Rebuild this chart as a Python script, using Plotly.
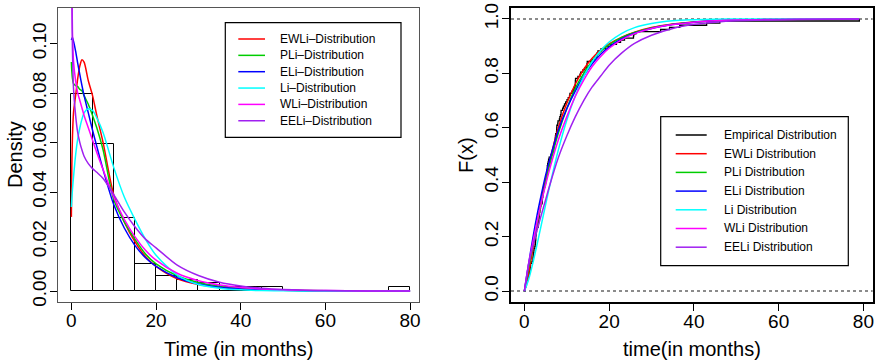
import numpy as np
import plotly.graph_objects as go
from plotly.subplots import make_subplots

# ---- data: bladder cancer remission times (months) ----
remission = [0.08, 2.09, 3.48, 4.87, 6.94, 8.66, 13.11, 23.63, 0.20, 2.23, 3.52, 4.98, 6.97, 9.02,
             13.29, 0.40, 2.26, 3.57, 5.06, 7.09, 9.22, 13.80, 25.74, 0.50, 2.46, 3.64, 5.09, 7.26,
             9.47, 14.24, 25.82, 0.51, 2.54, 3.70, 5.17, 7.28, 9.74, 14.76, 26.31, 0.81, 2.62, 3.82,
             5.32, 7.32, 10.06, 14.77, 32.15, 2.64, 3.88, 5.32, 7.39, 10.34, 14.83, 34.26, 0.90, 2.69,
             4.18, 5.34, 7.59, 10.66, 15.96, 36.66, 1.05, 2.69, 4.23, 5.41, 7.62, 10.75, 16.62, 43.01,
             1.19, 2.75, 4.26, 5.41, 7.63, 17.12, 46.12, 1.26, 2.83, 4.33, 5.49, 7.66, 11.25, 17.14,
             79.05, 1.35, 2.87, 5.62, 7.87, 11.64, 17.36, 1.40, 3.02, 4.34, 5.71, 7.93, 11.79, 18.10,
             1.46, 4.40, 5.85, 8.26, 11.98, 19.13, 1.76, 3.25, 4.50, 6.25, 8.37, 12.02, 2.02, 3.31,
             4.51, 6.54, 8.53, 12.03, 20.28, 2.02, 3.36, 6.76, 12.07, 21.73, 2.07, 3.36, 6.93, 8.65,
             12.63, 22.69]

# fitted densities
pdf_x = [0, 0.1, 0.25, 0.5, 1, 1.5, 2, 2.5, 3, 4, 5, 6, 7.5, 10, 12.5, 15, 17.5, 20, 25, 30, 35, 40,
         45, 50, 60, 70, 80]
pdf_ewli = [0.030, 0.050, 0.062, 0.072, 0.079, 0.086, 0.091, 0.0935, 0.0925, 0.085, 0.079, 0.071,
            0.060, 0.039, 0.028, 0.020, 0.014, 0.0100, 0.0050, 0.0027, 0.0015, 0.0009, 0.0005,
            0.0003, 0.0001, 0.00005, 0.00002]
pdf_pli = [0.0926, 0.089, 0.086, 0.0838, 0.0830, 0.0826, 0.0815, 0.081, 0.079, 0.0755, 0.071, 0.066,
           0.057, 0.037, 0.028, 0.021, 0.015, 0.011, 0.0062, 0.0035, 0.0020, 0.0012, 0.0007,
           0.0004, 0.00015, 0.00005, 0.00002]
pdf_eli = [0.1015, 0.102, 0.1025, 0.101, 0.097, 0.092, 0.0875, 0.083, 0.079, 0.072, 0.065, 0.0585,
           0.049, 0.035, 0.0255, 0.0185, 0.0135, 0.0100, 0.0054, 0.0029, 0.0016, 0.0009, 0.0005,
           0.0003, 0.0001, 0.00003, 0.00001]
pdf_li = [0.034, 0.037, 0.041, 0.046, 0.055, 0.0615, 0.066, 0.0695, 0.072, 0.0737, 0.073, 0.070,
          0.064, 0.050, 0.038, 0.029, 0.021, 0.0145, 0.0065, 0.0027, 0.0012, 0.0005, 0.0002,
          0.0001, 0.00002, 0.0, 0.0]
pdf_wli = [0.2, 0.13, 0.105, 0.093, 0.085, 0.080, 0.077, 0.074, 0.071, 0.066, 0.061, 0.056, 0.049,
           0.038, 0.029, 0.022, 0.0165, 0.0125, 0.0072, 0.0042, 0.0025, 0.0015, 0.0009, 0.0005,
           0.0002, 0.00007, 0.00003]
pdf_eeli = [0.2, 0.125, 0.098, 0.082, 0.071, 0.064, 0.060, 0.057, 0.0545, 0.0515, 0.0495, 0.048,
            0.0455, 0.039, 0.032, 0.026, 0.021, 0.0175, 0.0105, 0.0063, 0.0036, 0.0021, 0.0012,
            0.0007, 0.0002, 0.00005, 0.00001]

# fitted CDFs
cdf_x = [0, 1, 2, 3, 4, 5, 6, 8, 10, 12, 14, 16, 18, 20, 23, 26, 30, 35, 40, 45, 50, 60, 70, 79]
cdf_ewli = [0, 0.065, 0.155, 0.245, 0.33, 0.41, 0.48, 0.60, 0.69, 0.76, 0.815, 0.855, 0.885, 0.908,
            0.933, 0.951, 0.968, 0.981, 0.989, 0.993, 0.996, 0.998, 0.999, 0.9995]
cdf_pli = [0, 0.086, 0.168, 0.248, 0.325, 0.398, 0.465, 0.58, 0.67, 0.745, 0.80, 0.845, 0.88, 0.905,
           0.932, 0.95, 0.967, 0.98, 0.988, 0.993, 0.996, 0.998, 0.999, 0.9995]
cdf_eli = [0, 0.10, 0.195, 0.28, 0.355, 0.425, 0.485, 0.59, 0.67, 0.735, 0.79, 0.835, 0.87, 0.897,
           0.927, 0.947, 0.965, 0.979, 0.988, 0.993, 0.996, 0.998, 0.999, 0.9995]
cdf_li = [0, 0.043, 0.103, 0.172, 0.244, 0.317, 0.388, 0.518, 0.628, 0.717, 0.788, 0.843, 0.884,
          0.915, 0.947, 0.968, 0.983, 0.993, 0.997, 0.999, 0.9995, 1, 1, 1]
cdf_wli = [0, 0.10, 0.18, 0.255, 0.325, 0.39, 0.45, 0.555, 0.64, 0.715, 0.775, 0.825, 0.862, 0.892,
           0.924, 0.946, 0.965, 0.979, 0.988, 0.993, 0.996, 0.998, 0.999, 0.9995]
cdf_eeli = [0, 0.10, 0.165, 0.225, 0.28, 0.335, 0.39, 0.49, 0.57, 0.64, 0.70, 0.75, 0.79, 0.83,
            0.875, 0.91, 0.94, 0.965, 0.98, 0.988, 0.993, 0.997, 0.999, 0.9995]

pdf_names = ["EWLi–Distribution", "PLi–Distribution", "ELi–Distribution", "Li–Distribution",
             "WLi–Distribution", "EELi–Distribution"]
cdf_names = ["Empirical Distribution", "EWLi Distribution", "PLi Distribution", "ELi Distribution",
             "Li Distribution", "WLi Distribution", "EELi Distribution"]
x_ticks = [0, 20, 40, 60, 80]
pdf_ticks = [0.00, 0.02, 0.04, 0.06, 0.08, 0.10]
cdf_ticks = [0.0, 0.2, 0.4, 0.6, 0.8, 1.0]

colors = ["#FF0000", "#00CD00", "#0000FF", "#00FFFF", "#FF00FF", "#A020F0"]
FONT = "Liberation Sans, Arial, Helvetica, sans-serif"
W, H = 876, 361

fig = make_subplots(rows=1, cols=2)

# histogram
fig.add_trace(go.Histogram(x=remission, xbins=dict(start=0, end=80, size=5),
                           histnorm="probability density",
                           marker=dict(color="rgba(0,0,0,0)", line=dict(color="black", width=1)),
                           showlegend=False), row=1, col=1)
pdfs = [pdf_ewli, pdf_pli, pdf_eli, pdf_li, pdf_wli, pdf_eeli]
for name, ys, c in zip(pdf_names, pdfs, colors):
    fig.add_trace(go.Scatter(x=pdf_x, y=ys, mode="lines", name=name, showlegend=False,
                             line=dict(color=c, width=1.5, shape="spline", smoothing=0.8)),
                  row=1, col=1)

# empirical CDF
xs = np.sort(np.array(remission))
ys_e = np.arange(1, len(xs) + 1) / len(xs)
fig.add_trace(go.Scatter(x=np.concatenate([[0], xs]), y=np.concatenate([[0], ys_e]), mode="lines",
                         name=cdf_names[0], showlegend=False,
                         line=dict(color="black", width=1.3, shape="hv")), row=1, col=2)
cdfs = [cdf_ewli, cdf_pli, cdf_eli, cdf_li, cdf_wli, cdf_eeli]
for name, ys, c in zip(cdf_names[1:], cdfs, colors):
    fig.add_trace(go.Scatter(x=cdf_x, y=ys, mode="lines", name=name, showlegend=False,
                             line=dict(color=c, width=1.5, shape="spline", smoothing=0.8)),
                  row=1, col=2)

def px(x):
    return x / W

def py(y):
    return 1 - y / H

ydom = [py(302), py(8)]
axis_common = dict(showgrid=False, zeroline=False, showline=True, mirror=True, ticks="outside",
                   ticklen=7, tickwidth=1, tickcolor="black", automargin=False,
                   tickfont=dict(family=FONT, size=19, color="black"))
fig.update_xaxes(axis_common, row=1, col=1, domain=[px(58), px(419.4)], range=[-3.16, 82.2],
                 tickvals=x_ticks, linecolor="#555555", linewidth=1.3, ticklabelstandoff=-6)
fig.update_yaxes(axis_common, row=1, col=1, domain=ydom, range=[-0.0044, 0.1144],
                 tickvals=pdf_ticks, ticktext=["0.00", "0.02", "0.04", "0.06", "0.08", "0.10"],
                 tickangle=-90, linecolor="#555555", linewidth=1.3, ticklabelstandoff=-4)
fig.update_xaxes(axis_common, row=1, col=2, domain=[px(511), px(872.7)], range=[-3.16, 82.2],
                 tickvals=x_ticks, linecolor="black", linewidth=2, ticklabelstandoff=-6)
fig.update_yaxes(axis_common, row=1, col=2, domain=ydom, range=[-0.04, 1.04],
                 tickvals=cdf_ticks, ticktext=["0.0", "0.2", "0.4", "0.6", "0.8", "1.0"],
                 tickangle=-90, linecolor="black", linewidth=2, ticklabelstandoff=-4)

shapes = []
annotations = []
# axis titles
title_font = dict(family=FONT, size=20, color="black")
for text, x, y, ang in [("Time (in months)", 238.5, 349, 0), ("time(in months)", 691.7, 349, 0),
                        ("Density", 15, 155, -90), ("F(x)", 466, 155, -90)]:
    annotations.append(dict(xref="paper", yref="paper", x=px(x), y=py(y), text=text,
                            showarrow=False, xanchor="center", yanchor="middle",
                            textangle=ang, font=title_font))

# dotted reference lines on CDF panel
for yv in (0, 1):
    shapes.append(dict(type="line", xref="x2 domain", yref="y2", x0=0, x1=1, y0=yv, y1=yv,
                       line=dict(color="#666666", width=1.5, dash="dot"), layer="below"))

def add_legend(box, lx0, lx1, tx, y0, dy, names, cols):
    x0, y0b, x1, y1b = box
    shapes.append(dict(type="rect", xref="paper", yref="paper", x0=px(x0), x1=px(x1),
                       y0=py(y1b), y1=py(y0b), line=dict(color="black", width=1.2),
                       fillcolor="white", layer="above"))
    for i, (n, c) in enumerate(zip(names, cols)):
        yy = y0 + dy * i
        shapes.append(dict(type="line", xref="paper", yref="paper", x0=px(lx0), x1=px(lx1),
                           y0=py(yy), y1=py(yy), line=dict(color=c, width=1.5), layer="above"))
        annotations.append(dict(xref="paper", yref="paper", x=px(tx), y=py(yy), text=n,
                                showarrow=False, xanchor="left", yanchor="middle",
                                font=dict(family=FONT, size=12, color="black")))

add_legend((225.3, 22.7, 401, 137.3), 238.3, 265, 278.3, 39, 16.35, pdf_names, colors)
add_legend((660.7, 116.7, 848.3, 265.7), 675.7, 706.7, 721.7, 135, 18.7, cdf_names,
           ["black"] + colors)

fig.update_layout(width=W, height=H, margin=dict(l=0, r=0, t=0, b=0), plot_bgcolor="white",
                  paper_bgcolor="white", shapes=shapes, annotations=annotations,
                  showlegend=False, bargap=0, font=dict(family=FONT, color="black"))
fig.write_html("out.html")
